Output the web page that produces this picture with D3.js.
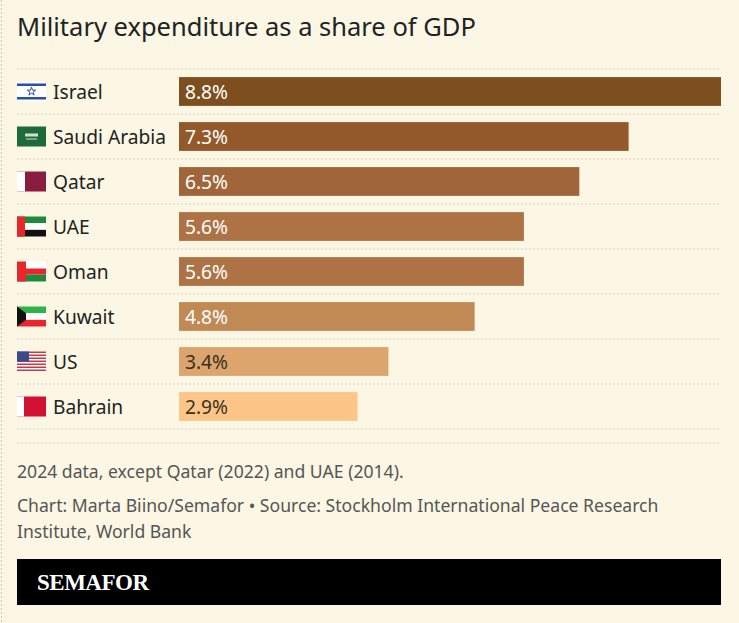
<!DOCTYPE html>
<html><head><meta charset="utf-8">
<script src="https://cdn.jsdelivr.net/npm/d3@7"></script>
<style>body{margin:0;background:#fbf7e4;}text{font-family:"Noto Sans",sans-serif;}text.logo{font-family:"Liberation Serif",serif;}</style>
</head><body><svg id="c" width="739" height="623"></svg>
<script>
const countries=["Israel","Saudi Arabia","Qatar","UAE","Oman","Kuwait","US","Bahrain"];
const values=[8.8,7.3,6.5,5.6,5.6,4.8,3.4,2.9];
const labels=["8.8%","7.3%","6.5%","5.6%","5.6%","4.8%","3.4%","2.9%"];
const colors=["#7e4f1e","#93592a","#a0663a","#ad7344","#ad7344","#c08a55","#dca56d","#fdc588"];
const textColors=["#fff","#fff","#fff","#fff","#fff","#fff","#3a3020","#3a3020"];

const svg=d3.select("#c");
svg.append("rect").attr("width",739).attr("height",623).attr("fill","#fbf7e4");
svg.append("text").attr("x",17).attr("y",36).attr("font-size",25.5).attr("fill","#222").text("Military expenditure as a share of GDP");
svg.append("line").attr("x1",1.5).attr("x2",1.5).attr("y1",0).attr("y2",623).attr("stroke","#ccc6b0").attr("stroke-dasharray","2,2");

const x=d3.scaleLinear().domain([0,8.8]).range([179,721]);
const y=d3.scaleBand().domain(countries).range([69,429]).paddingInner(0.36).paddingOuter(0.18);
const step=y.step();
const g=svg.append("g");
const seps=[69].concat(countries.map(c=>y(c)+y.bandwidth()+ (step-y.bandwidth())/2));
g.selectAll("line.sep").data(seps).join("line").attr("x1",17).attr("x2",721)
 .attr("y1",d=>d).attr("y2",d=>d).attr("stroke","#d6d0ba").attr("stroke-dasharray","2,2");
g.selectAll("rect.bar").data(values).join("rect").attr("x",x(0)).attr("y",(d,i)=>y(countries[i]))
 .attr("width",d=>x(d)-x(0)).attr("height",y.bandwidth()).attr("fill",(d,i)=>colors[i]);
g.selectAll("text.v").data(labels).join("text").attr("x",x(0)+6).attr("y",(d,i)=>y(countries[i])+y.bandwidth()/2+7)
 .attr("font-size",19.2).attr("fill",(d,i)=>textColors[i]).text(d=>d);
g.selectAll("text.n").data(countries).join("text").attr("x",53).attr("y",d=>y(d)+y.bandwidth()/2+7)
 .attr("font-size",19.2).attr("fill","#222").text(d=>d);

countries.forEach((c,i)=>{
  const fy=y(c)+y.bandwidth()/2-10, fx=17, w=29, h=20;
  const f=svg.append("g").attr("transform",`translate(${fx},${fy})`);
  const r=(a,b,cw,ch,col)=>f.append("rect").attr("x",a).attr("y",b).attr("width",cw).attr("height",ch).attr("fill",col);
  if(c==="Israel"){r(0,0,w,h,"#fff");r(0,2,w,2.5,"#2a4fa8");r(0,15.5,w,2.5,"#2a4fa8");
    f.append("path").attr("d",d3.symbol(d3.symbolStar,22)()).attr("transform","translate(14.5,10)").attr("fill","none").attr("stroke","#2a4fa8");}
  else if(c==="Saudi Arabia"){r(0,0,w,h,"#1e6b3a");r(8,7,13,3,"#cfe0d4");r(9,12,11,1,"#cfe0d4");}
  else if(c==="Qatar"){r(0,0,w,h,"#8a1c3f");r(0,0,8,h,"#fff");}
  else if(c==="UAE"){r(0,0,w,h/3,"#1e8a3a");r(0,h/3,w,h/3,"#fff");r(0,2*h/3,w,h/3,"#111");r(0,0,8,h,"#e8262c");}
  else if(c==="Oman"){r(0,0,w,h,"#fff");r(0,13,w,7,"#1e8a3a");r(0,7,w,6,"#e8262c");r(0,0,9,h,"#e8262c");}
  else if(c==="Kuwait"){r(0,0,w,h/3,"#2db34a");r(0,h/3,w,h/3,"#fff");r(0,2*h/3,w,h/3,"#e8262c");
    f.append("path").attr("d","M0,0L9,6.7L9,13.3L0,20Z").attr("fill","#111");}
  else if(c==="US"){r(0,0,w,h,"#fff");for(let k=0;k<7;k++)r(0,k*3,w,1.5,"#c23b47");r(0,0,12,10,"#3b4a8c");}
  else if(c==="Bahrain"){r(0,0,w,h,"#d21034");r(0,0,7,h,"#fff");}
});
svg.append("line").attr("x1",17).attr("x2",721).attr("y1",443).attr("y2",443).attr("stroke","#d6d0ba").attr("stroke-dasharray","2,2");

const foot=["2024 data, except Qatar (2022) and UAE (2014).","Chart: Marta Biino/Semafor • Source: Stockholm International Peace Research","Institute, World Bank"];
const fys=[478,512,538];
svg.selectAll("text.f").data(foot).join("text").attr("x",17).attr("y",(d,i)=>fys[i]).attr("font-size",17.6).attr("fill","#555").text(d=>d);
svg.append("rect").attr("x",17).attr("y",559).attr("width",704).attr("height",46).attr("fill","#000");
svg.append("text").attr("class","logo").attr("x",37).attr("y",590).attr("font-weight","bold")
 .attr("font-size",23).attr("fill","#fff").attr("letter-spacing","-0.5").text("SEMAFOR");
</script></body></html>
